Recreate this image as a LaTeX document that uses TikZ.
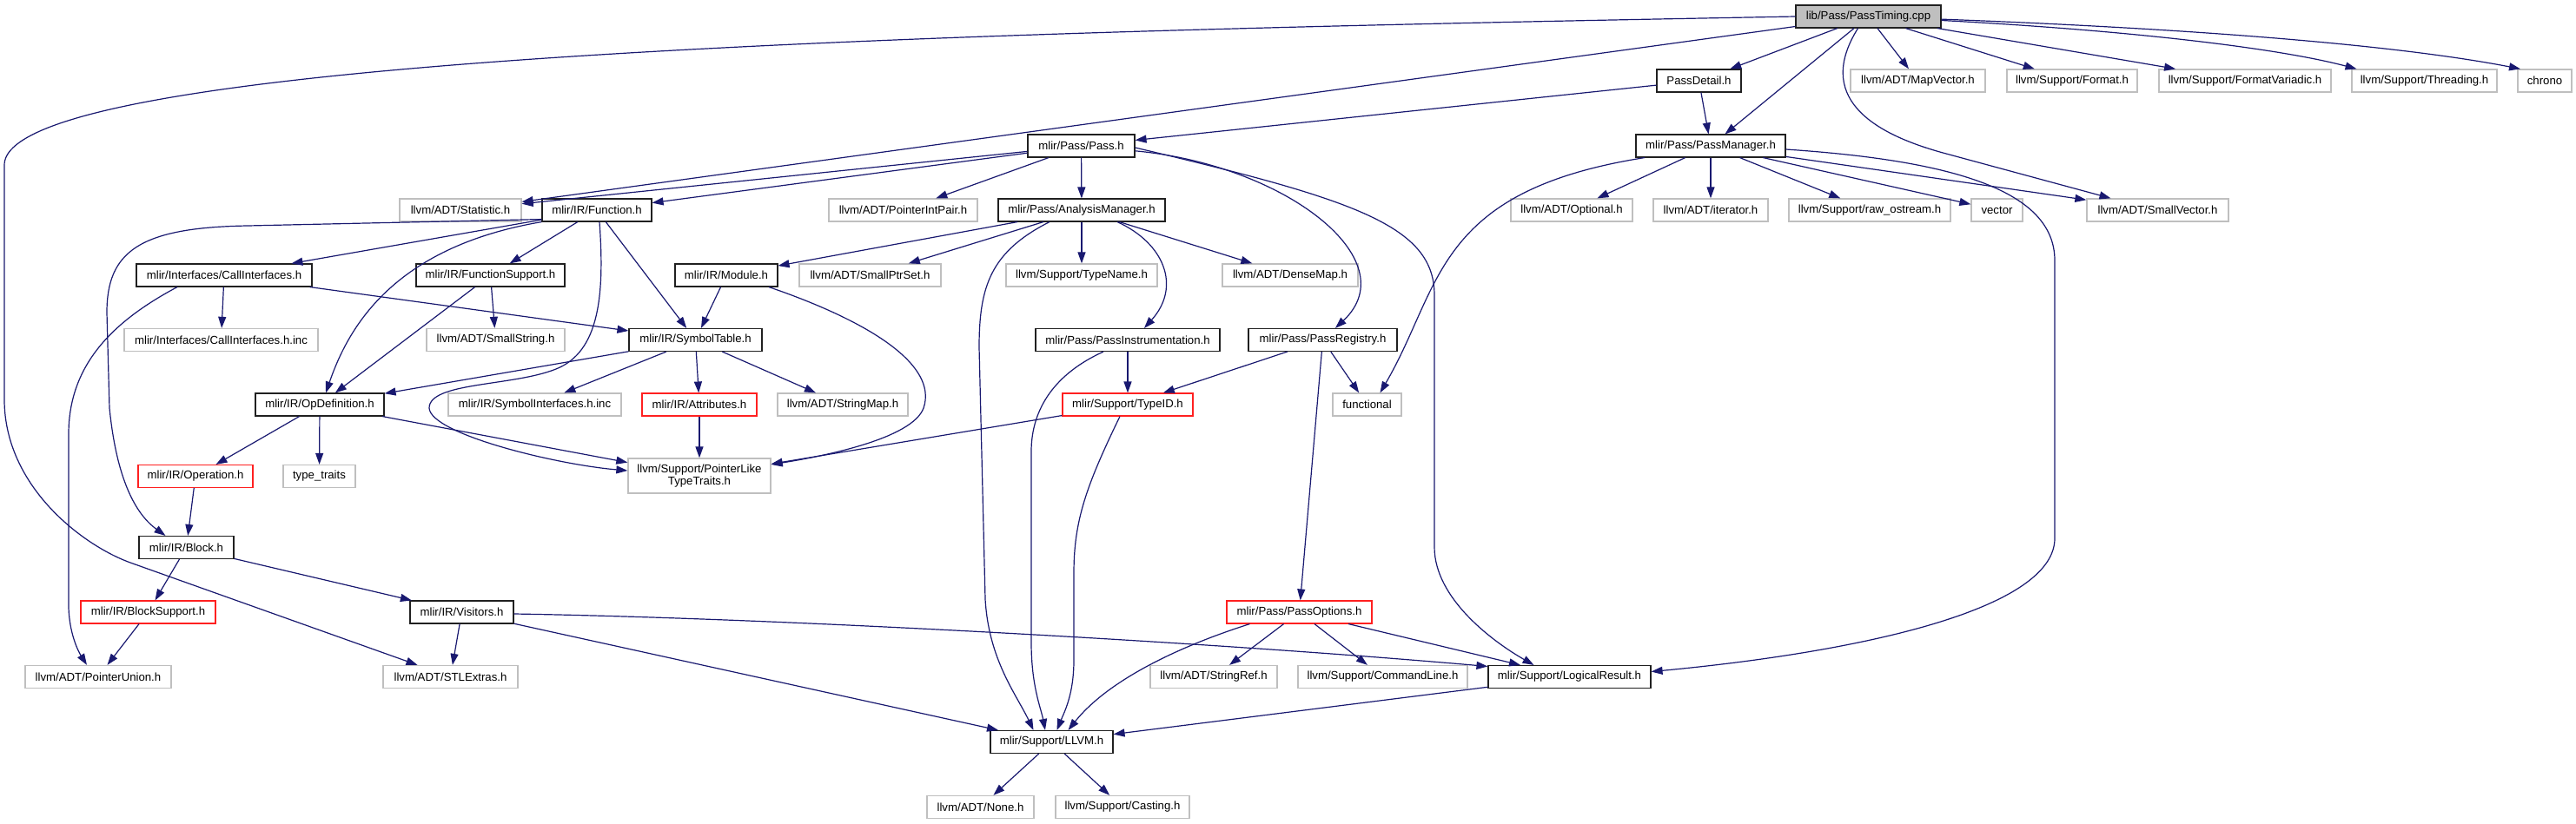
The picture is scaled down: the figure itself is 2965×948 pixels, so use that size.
\documentclass[tikz,border=0pt]{standalone}
\usepackage{fontspec}
\setmainfont{Liberation Sans}
\usetikzlibrary{arrows.meta}
\definecolor{edgeblue}{HTML}{191970}
\definecolor{graybd}{HTML}{BFBFBF}
\definecolor{rootfill}{HTML}{BFBFBF}
\definecolor{blkbd}{HTML}{202020}
\definecolor{redbd}{HTML}{FF2020}
\begin{document}
\begin{tikzpicture}[x=1pt,y=-1pt,
  box/.style={draw, rectangle, inner sep=0pt, minimum height=26pt, line width=1.3pt, fill=white,
    font=\fontsize{13.2}{14}\selectfont, align=center},
  nblk/.style={box, draw=blkbd, line width=1.1pt},
  ngray/.style={box, draw=graybd},
  nred/.style={box, draw=redbd, line width=1.1pt},
  nroot/.style={box, draw=blkbd, line width=1.1pt, fill=rootfill},
  conn/.style={draw=edgeblue, line width=1.2pt, -{Triangle[length=13pt,width=9pt]}}]
\fill[white] (0,0) rectangle (2965,948);
\useasboundingbox (0,0) rectangle (2965,948);
% row 0
\node[nroot, minimum width=167pt] (pt) at (2150.5,19) {lib/Pass/PassTiming.cpp};
% row 1
\node[nblk, minimum width=97pt] (pd) at (1955.5,93) {PassDetail.h};
\node[ngray, minimum width=155pt] (mapvec) at (2207.5,93) {llvm/ADT/MapVector.h};
\node[ngray, minimum width=150pt] (fmt) at (2385,93) {llvm/Support/Format.h};
\node[ngray, minimum width=198pt] (fmtvar) at (2584,93) {llvm/Support/FormatVariadic.h};
\node[ngray, minimum width=167pt] (thr) at (2790.5,93) {llvm/Support/Threading.h};
\node[ngray, minimum width=62pt] (chrono) at (2929,93) {chrono};
% row 2
\node[nblk, minimum width=123pt] (pass) at (1244.5,168) {mlir/Pass/Pass.h};
\node[nblk, minimum width=172pt] (pm) at (1969,168) {mlir/Pass/PassManager.h};
% row 3
\node[ngray, minimum width=140pt] (stat) at (530,242) {llvm/ADT/Statistic.h};
\node[nblk, minimum width=126pt] (func) at (687,242) {mlir/IR/Function.h};
\node[ngray, minimum width=171pt] (pip) at (1039.5,242) {llvm/ADT/PointerIntPair.h};
\node[nblk, minimum width=192pt] (am) at (1245,242) {mlir/Pass/AnalysisManager.h};
\node[ngray, minimum width=140pt] (opt) at (1809,242) {llvm/ADT/Optional.h};
\node[ngray, minimum width=132pt] (iter) at (1969,242) {llvm/ADT/iterator.h};
\node[ngray, minimum width=186pt] (rawos) at (2152,242) {llvm/Support/raw\_ostream.h};
\node[ngray, minimum width=59pt] (vec) at (2298.5,242) {vector};
\node[ngray, minimum width=163pt] (svec) at (2483.5,242) {llvm/ADT/SmallVector.h};
% row 4
\node[nblk, minimum width=202pt] (ci) at (258,317) {mlir/Interfaces/CallInterfaces.h};
\node[nblk, minimum width=171pt] (fs) at (564.5,317) {mlir/IR/FunctionSupport.h};
\node[nblk, minimum width=118pt] (mod) at (836,317) {mlir/IR/Module.h};
\node[ngray, minimum width=163pt] (sps) at (1001.5,317) {llvm/ADT/SmallPtrSet.h};
\node[ngray, minimum width=174pt] (tname) at (1245,317) {llvm/Support/TypeName.h};
\node[ngray, minimum width=156pt] (dmap) at (1485,317) {llvm/ADT/DenseMap.h};
% row 5
\node[ngray, minimum width=223pt] (ciinc) at (254.5,391.5) {mlir/Interfaces/CallInterfaces.h.inc};
\node[ngray, minimum width=159pt] (sstr) at (570.5,391.5) {llvm/ADT/SmallString.h};
\node[nblk, minimum width=153pt] (st) at (800.5,391.5) {mlir/IR/SymbolTable.h};
\node[nblk, minimum width=212pt] (pinst) at (1298,391.5) {mlir/Pass/PassInstrumentation.h};
\node[nblk, minimum width=171pt] (preg) at (1522.5,391.5) {mlir/Pass/PassRegistry.h};
% row 6
\node[nblk, minimum width=148pt] (opdef) at (368,466) {mlir/IR/OpDefinition.h};
\node[ngray, minimum width=199pt] (syminc) at (615.5,466) {mlir/IR/SymbolInterfaces.h.inc};
\node[nred, minimum width=132pt] (attr) at (805,466) {mlir/IR/Attributes.h};
\node[ngray, minimum width=150pt] (smap) at (970,466) {llvm/ADT/StringMap.h};
\node[nred, minimum width=150pt] (tid) at (1298,466) {mlir/Support/TypeID.h};
\node[ngray, minimum width=79pt] (functional) at (1573.5,466) {functional};
% row 7
\node[ngray, minimum width=164pt, minimum height=40pt] (pltt) at (805,548) {llvm/Support/PointerLike\\TypeTraits.h};
\node[nred, minimum width=132pt] (oper) at (225,548.5) {mlir/IR/Operation.h};
\node[ngray, minimum width=83pt] (ttraits) at (367.5,548.5) {type\_traits};
% row 8
\node[nblk, minimum width=109pt] (block) at (214.5,630.5) {mlir/IR/Block.h};
% row 9
\node[nred, minimum width=155pt] (bsup) at (170.5,705) {mlir/IR/BlockSupport.h};
\node[nblk, minimum width=119pt] (vis) at (531.5,705) {mlir/IR/Visitors.h};
\node[nred, minimum width=167pt] (popt) at (1495.5,705) {mlir/Pass/PassOptions.h};
% row 10
\node[ngray, minimum width=168pt] (punion) at (113,779.5) {llvm/ADT/PointerUnion.h};
\node[ngray, minimum width=155pt] (stl) at (518.5,779.5) {llvm/ADT/STLExtras.h};
\node[ngray, minimum width=146pt] (sref) at (1397,779.5) {llvm/ADT/StringRef.h};
\node[ngray, minimum width=195pt] (cmdl) at (1591.5,779.5) {llvm/Support/CommandLine.h};
\node[nblk, minimum width=187pt] (lres) at (1806.5,779.5) {mlir/Support/LogicalResult.h};
% row 11
\node[nblk, minimum width=141pt] (llvm) at (1210.5,854.5) {mlir/Support/LLVM.h};
% row 12
\node[ngray, minimum width=123pt] (none) at (1128.5,929.5) {llvm/ADT/None.h};
\node[ngray, minimum width=154pt] (cast) at (1292,929.5) {llvm/Support/Casting.h};

% ---- edges from PassTiming.cpp
\draw[conn] (pt) -- (pd);
\draw[conn] (pt) -- (pm);
\draw[conn] (pt) -- (mapvec);
\draw[conn] (pt) -- (fmt);
\draw[conn] (pt) -- (fmtvar);
\draw[conn] (pt) .. controls (2450,35) and (2620,55) .. ([xshift=-78pt]thr.north);
\draw[conn] (pt) .. controls (2500,32) and (2750,50) .. ([xshift=-28pt]chrono.north);
\draw[conn] ([xshift=-12pt]pt.south) .. controls (2090,110) and (2150,153) .. (2240,177) -- ([xshift=-54pt]svec.north);
\draw[conn] (pt) -- (stat);
\draw[conn] (pt.west) .. controls (1200,35) and (5,60) .. (5,190) -- (5,460) .. controls (5,560) and (95,628) .. (150,648) -- ([xshift=-38pt]stl.north);
% ---- PassDetail
\draw[conn] (pd) -- (pass);
\draw[conn] (pd) -- (pm);
% ---- Pass.h
\draw[conn] (pass) -- (stat);
\draw[conn] (pass) -- (func);
\draw[conn] (pass) -- (pip);
\draw[conn] (pass) -- (am);
\draw[conn] (pass) .. controls (1480,190) and (1620,300) .. (preg);
\draw[conn] ([yshift=-2pt]pass.east) .. controls (1560,230) and (1651,260) .. (1651,340) -- (1651,630) .. controls (1651,690) and (1720,740) .. ([xshift=-41pt]lres.north);
% ---- PassManager
\draw[conn] ([xshift=-76pt]pm.south) .. controls (1650,220) and (1660,330) .. ([xshift=15pt]functional.north);
\draw[conn] (pm) -- (opt);
\draw[conn] (pm) -- (iter);
\draw[conn] (pm) -- (rawos);
\draw[conn] (pm) -- (vec);
\draw[conn] (pm) -- (svec);
\draw[conn] ([yshift=-4pt]pm.east) .. controls (2250,185) and (2365,220) .. (2365,300) -- (2365,620) .. controls (2365,700) and (2150,750) .. ([yshift=6pt]lres.east);
% ---- AnalysisManager
\draw[conn] (am) -- (mod);
\draw[conn] (am) -- (sps);
\draw[conn] (am) -- (tname);
\draw[conn] (am) -- (dmap);
\draw[conn] ([xshift=41pt]am.south) .. controls (1340,280) and (1360,330) .. ([xshift=19pt]pinst.north);
\draw[conn] ([xshift=-37pt]am.south) .. controls (1140,290) and (1127,330) .. (1127,400) -- (1134,690) .. controls (1138,760) and (1170,800) .. ([xshift=-21pt]llvm.north);
% ---- Function.h
\draw[conn] (func) -- (ci);
\draw[conn] (func) -- (fs);
\draw[conn] (func.south west) .. controls (450,285) and (400,380) .. ([xshift=7pt]opdef.north);
\draw[conn] (func) -- (st);
\draw[conn] ([yshift=3pt]func.south west) -- (285,260) .. controls (160,262) and (123,290) .. (123,360) -- (126,470) .. controls (135,560) and (160,595) .. ([xshift=-24pt]block.north);
\draw[conn] ([xshift=3pt]func.south) .. controls (696,340) and (690,405) .. (640,425) .. controls (590,445) and (494,440) .. (494,470) .. controls (496,500) and (640,535) .. ([yshift=6pt]pltt.west);
% ---- CallInterfaces
\draw[conn] (ci) -- (ciinc);
\draw[conn] (ci) -- (st);
\draw[conn] ([xshift=-54pt]ci.south) .. controls (130,370) and (79,420) .. (79,500) -- (79,700) .. controls (80,730) and (90,750) .. ([xshift=-13pt]punion.north);
% ---- FunctionSupport
\draw[conn] (fs) -- (sstr);
\draw[conn] (fs) -- (opdef);
% ---- SymbolTable
\draw[conn] (st) -- (opdef);
\draw[conn] (st) -- (syminc);
\draw[conn] (st) -- (attr);
\draw[conn] (st) -- (smap);
% ---- Module
\draw[conn] (mod) -- (st);
\draw[conn] ([xshift=49pt]mod.south) .. controls (1000,370) and (1080,420) .. (1063,470) .. controls (1050,505) and (950,525) .. ([yshift=13pt]pltt.east);
% ---- OpDefinition
\draw[conn] (opdef) -- (oper);
\draw[conn] (opdef) -- (ttraits);
\draw[conn] (opdef) -- (pltt);
\draw[conn] (attr) -- (pltt);
% ---- TypeID
\draw[conn] (tid) -- (pltt);
\draw[conn] ([xshift=-9pt]tid.south) .. controls (1250,560) and (1236,600) .. (1236,660) -- (1236,760) .. controls (1236,800) and (1225,820) .. ([xshift=6pt]llvm.north);
% ---- PassInstrumentation
\draw[conn] (pinst) -- (tid);
\draw[conn] ([xshift=-28pt]pinst.south) .. controls (1215,430) and (1187,470) .. (1187,520) -- (1187,740) .. controls (1187,790) and (1198,815) .. ([xshift=-7.5pt]llvm.north);
% ---- PassRegistry
\draw[conn] (preg) -- (tid);
\draw[conn] (preg) -- (functional);
\draw[conn] (preg) -- (popt);
% ---- Operation, Block
\draw[conn] (oper) -- (block);
\draw[conn] (block) -- (bsup);
\draw[conn] (block) -- (vis);
\draw[conn] (bsup) -- (punion);
% ---- Visitors
\draw[conn] (vis) -- (stl);
\draw[conn] ([yshift=-2pt]vis.east) .. controls (900,712) and (1400,740) .. ([yshift=12pt]lres.west);
\draw[conn] (vis) -- (llvm);
% ---- PassOptions
\draw[conn] ([xshift=-57pt]popt.south) .. controls (1340,750) and (1270,790) .. ([xshift=19pt]llvm.north);
\draw[conn] (popt) -- (sref);
\draw[conn] (popt) -- (cmdl);
\draw[conn] (popt) -- (lres);
% ---- LogicalResult, LLVM
\draw[conn] (lres) -- (llvm);
\draw[conn] (llvm) -- (none);
\draw[conn] (llvm) -- (cast);
\end{tikzpicture}
\end{document}
